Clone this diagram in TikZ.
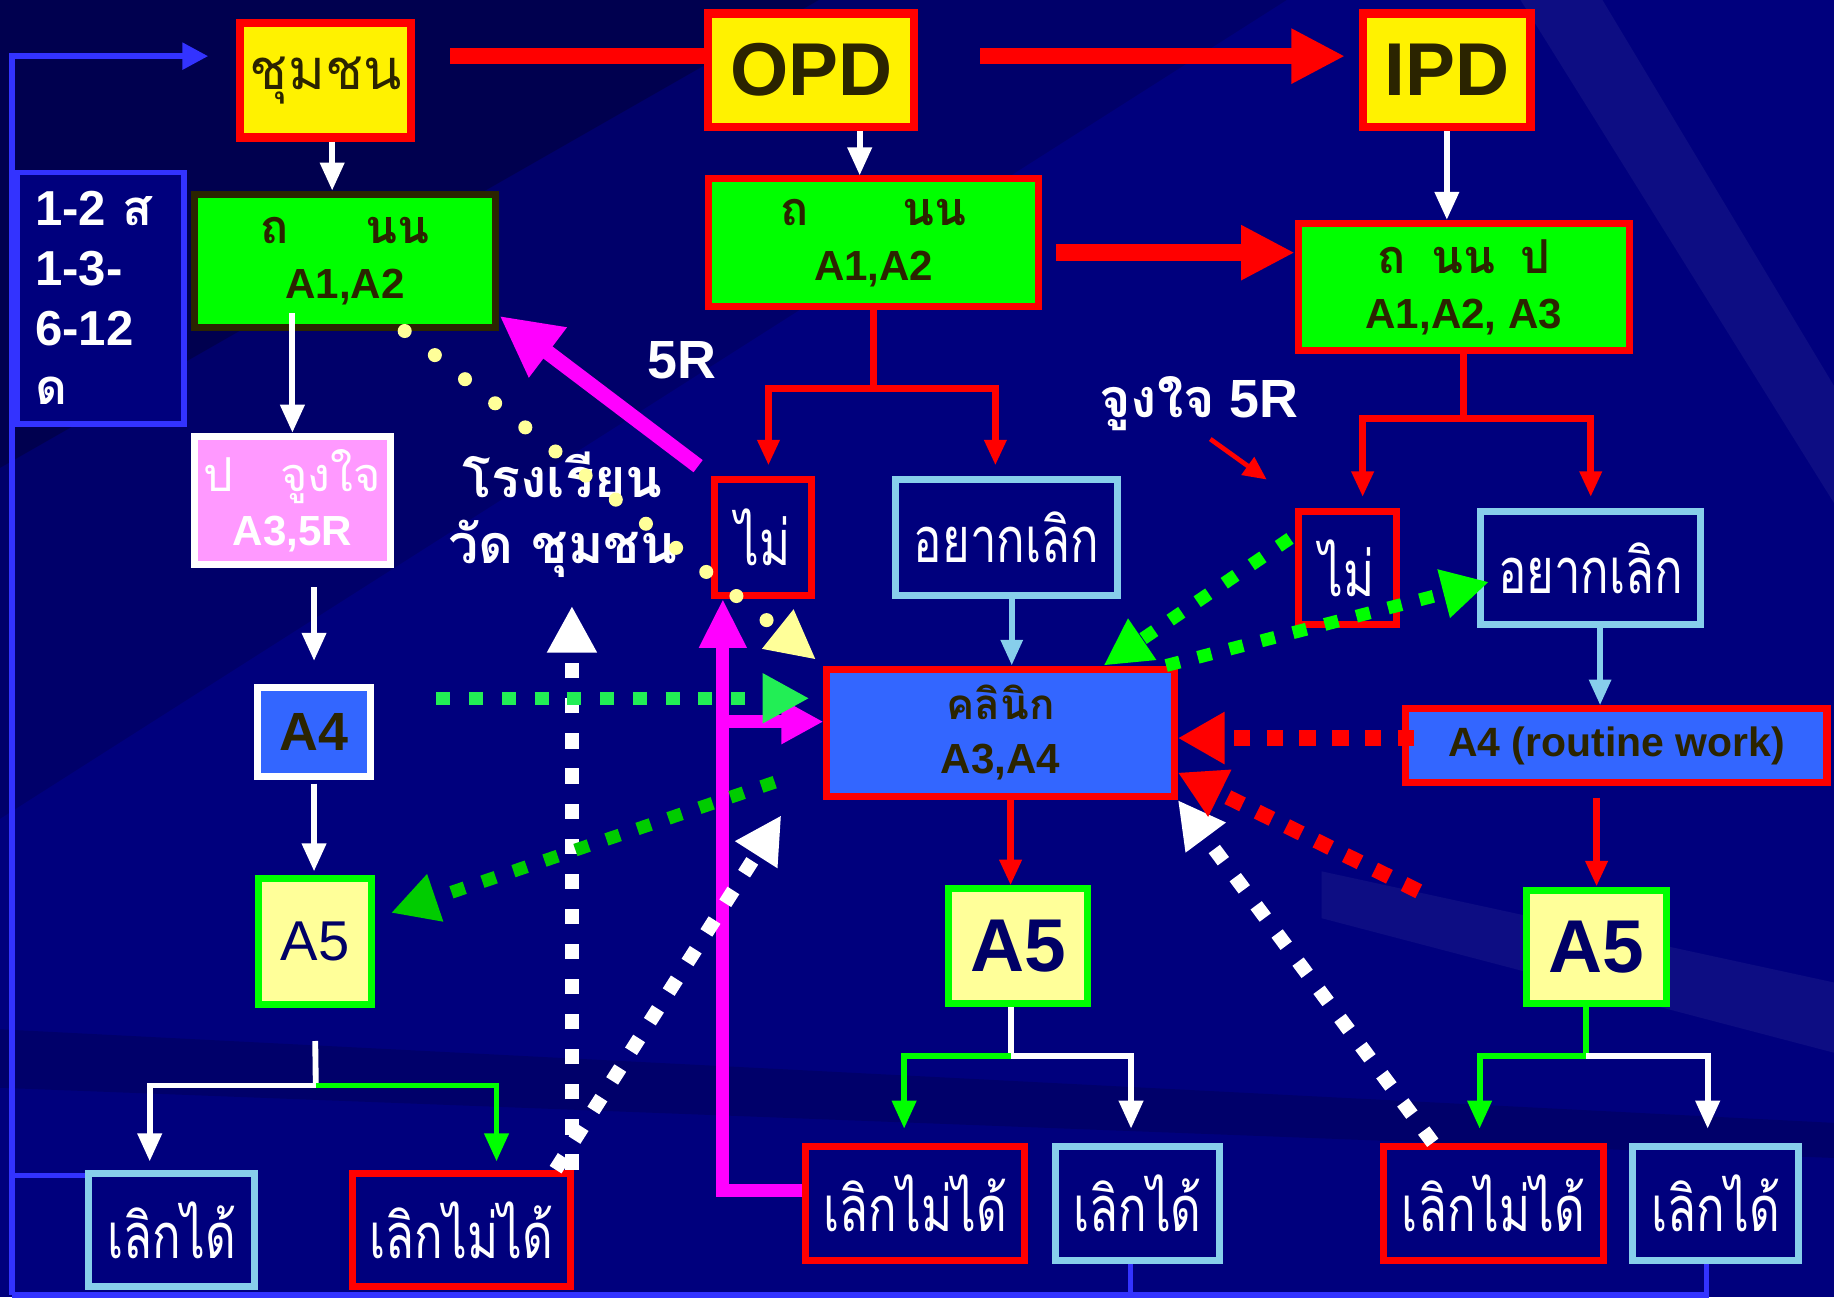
\documentclass[tikz,border=0pt]{standalone}
\usepackage{fontspec}
\setmainfont{Liberation Sans}
\newfontfamily\thai[Script=Thai]{Loma}
\newfontfamily\thaic[Script=Thai,FakeStretch=0.75]{Loma}
\usetikzlibrary{arrows.meta}
\definecolor{bgnavy}{RGB}{0,0,125}
\definecolor{dtext}{RGB}{43,36,0}
\definecolor{boxblue}{RGB}{51,102,255}
\definecolor{skyb}{RGB}{135,206,235}
\definecolor{pinkf}{RGB}{255,153,255}
\definecolor{paley}{RGB}{255,255,153}
\definecolor{navyt}{RGB}{0,0,102}
\definecolor{frameb}{RGB}{51,51,255}
\definecolor{sgreen}{RGB}{34,238,85}
\definecolor{dgreen}{RGB}{0,204,0}
\definecolor{lgreen}{RGB}{0,255,0}
\definecolor{magc}{RGB}{255,0,255}
\definecolor{redc}{RGB}{255,0,0}
\newcommand\myfs[1]{\fontsize{#1}{#1}\selectfont}
\begin{document}
\begin{tikzpicture}[x=1pt,y=-1pt,
 box/.style={draw, rectangle, line width=6pt, inner sep=0pt},
 ybox/.style={box, line width=7pt, draw=redc, fill=yellow, text=dtext},
 gbox/.style={box, fill=lgreen, text=dtext, align=center, font=\bfseries\fontsize{36}{47}\selectfont},
 dbox/.style={box, fill=bgnavy, text=white, font=\thaic\myfs{54}},
 redbig/.style={draw=redc, line width=14pt, -{Triangle[length=46pt,width=44pt]}},
 redln/.style={draw=redc, line width=6pt},
 redarr/.style={redln, -{Triangle[length=22pt,width=18pt]}},
 whiteln/.style={draw=white, line width=5pt},
 whitearr/.style={whiteln, -{Triangle[length=24pt,width=20pt]}},
 greenln/.style={draw=lgreen, line width=5pt},
 greenarr/.style={greenln, -{Triangle[length=24pt,width=20pt]}},
 skyarr/.style={draw=skyb, line width=5pt, -{Triangle[length=22pt,width=18pt]}},
 bluefr/.style={draw=frameb, line width=5pt},
 magbig/.style={draw=magc, line width=13pt, -{Triangle[length=52pt,width=50pt]}},
 magln/.style={draw=magc, line width=11pt},
 magarr/.style={magln, -{Triangle[length=42pt,width=38pt]}},
 gdots/.style={line width=11pt, dash pattern=on 12pt off 16pt, -{Triangle[length=40pt,width=40pt]}},
 ydots/.style={draw=paley, line width=12pt, line cap=round, dash pattern=on 0pt off 33pt, -{Triangle[length=42pt,width=40pt]}},
 wdash/.style={draw=white, line width=12pt, dash pattern=on 13pt off 17pt, -{Triangle[length=40pt,width=40pt]}},
 rdash/.style={draw=redc, line width=13pt, dash pattern=on 14pt off 14pt, -{Triangle[length=40pt,width=42pt]}},
 lbl/.style={text=white, inner sep=0pt}
]
% background
\fill[bgnavy] (0,0) rectangle (1568,1109);
\fill[black, opacity=0.25] (0,0) -- (700,0) -- (0,400) -- cycle;
\fill[black, opacity=0.15] (0,0) -- (1100,0) -- (0,700) -- cycle;
\fill[white, opacity=0.05] (1300,0) -- (1370,0) -- (1568,330) -- (1568,430) -- cycle;
\fill[white, opacity=0.05] (1130,745) -- (1568,840) -- (1568,900) -- (1130,785) -- cycle;
\fill[black, opacity=0.15] (0,880) -- (1568,960) -- (1568,990) -- (0,930) -- cycle;
\useasboundingbox (0,0) rectangle (1568,1109);

% nodes
\node[ybox, minimum width=146pt, minimum height=98pt, font=\thai\myfs{48}] (chum) at (278.5,68.5) {ชุมชน};
\node[ybox, minimum width=176pt, minimum height=97pt, font=\bfseries\myfs{64}] (opd) at (693.5,60) {OPD};
\node[ybox, minimum width=143pt, minimum height=97pt, font=\bfseries\myfs{64}] (ipd) at (1237,60) {IPD};

\node[gbox, draw=dtext, minimum width=258pt, minimum height=114pt] (g1) at (295,223) {{\thai\fontsize{40}{47}\selectfont ถ\hspace{66pt}นน}\\A1,A2};
\node[gbox, draw=redc, minimum width=282pt, minimum height=109pt] (g2) at (747,207.5) {{\thai\fontsize{40}{47}\selectfont ถ\hspace{80pt}นน}\\A1,A2};
\node[gbox, draw=redc, minimum width=283pt, minimum height=109pt] (g3) at (1251.5,245.5) {{\thai\fontsize{40}{47}\selectfont ถ\hspace{22pt}นน\hspace{22pt}ป}\\A1,A2, A3};

\node[box, draw=frameb, line width=5pt, fill=bgnavy, text=white, minimum width=143pt, minimum height=215pt, text width=112pt, align=left, font=\bfseries\fontsize{42}{51}\selectfont] (bx) at (86,255) {1-2 {\thai ส}\\1-3-\\6-12\\{\thai ด}};

\node[box, draw=white, fill=pinkf, text=white, minimum width=168pt, minimum height=110pt, align=center, font=\bfseries\fontsize{36}{46}\selectfont] (pink) at (250,428) {{\thai\mdseries\fontsize{40}{46}\selectfont ป\hspace{40pt}จูงใจ}\\A3,5R};
\node[box, draw=white, fill=boxblue, text=dtext, font=\bfseries\myfs{46}, minimum width=97pt, minimum height=76pt] (a4L) at (268.5,626) {A4};
\node[box, draw=lgreen, fill=paley, text=navyt, font=\myfs{48}, minimum width=97pt, minimum height=108pt] (a5L) at (269.5,805) {A5};
\node[dbox, draw=skyb, minimum width=142pt, minimum height=97pt] (ldL) at (147,1051.5) {เลิกได้};
\node[dbox, draw=redc, minimum width=187pt, minimum height=97pt] (lmL) at (394.5,1051.5) {เลิกไม่ได้};

\node[dbox, draw=redc, minimum width=83pt, minimum height=99pt] (maiC) at (652.5,459.5) {ไม่};
\node[dbox, draw=skyb, minimum width=189pt, minimum height=99pt] (yakC) at (860.5,459.5) {อยากเลิก};
\node[box, draw=redc, fill=boxblue, text=dtext, align=center, font=\bfseries\fontsize{36}{46}\selectfont, minimum width=297pt, minimum height=109pt] (clinic) at (855.5,626.5) {{\thai คลินิก}\\A3,A4};
\node[box, draw=lgreen, fill=paley, text=navyt, font=\bfseries\myfs{64}, minimum width=119pt, minimum height=98pt] (a5C) at (870.5,809) {A5};
\node[dbox, draw=redc, minimum width=187pt, minimum height=98pt] (lmC) at (782.5,1029) {เลิกไม่ได้};
\node[dbox, draw=skyb, minimum width=141pt, minimum height=98pt] (ldC) at (972.5,1029) {เลิกได้};

\node[dbox, draw=redc, minimum width=84pt, minimum height=97pt] (maiR) at (1152,485.5) {ไม่};
\node[dbox, draw=skyb, minimum width=188pt, minimum height=97pt] (yakR) at (1360,485.5) {อยากเลิก};
\node[box, draw=redc, fill=boxblue, text=dtext, font=\bfseries\myfs{35}, minimum width=360pt, minimum height=63pt] (a4R) at (1382,637.5) {A4 (routine work)};
\node[box, draw=lgreen, fill=paley, text=navyt, font=\bfseries\myfs{64}, minimum width=120pt, minimum height=97pt] (a5R) at (1365,809.5) {A5};
\node[dbox, draw=redc, minimum width=188pt, minimum height=98pt] (lmR) at (1277,1029) {เลิกไม่ได้};
\node[dbox, draw=skyb, minimum width=142pt, minimum height=98pt] (ldR) at (1467,1029) {เลิกได้};

% labels
\node[lbl, font=\bfseries\myfs{46}] (l5r) at (583,308) {5R};
\node[lbl, font=\bfseries\myfs{46}] (j5r) at (1025,345) {{\thai จูงใจ} 5R};
\node[lbl, font=\thai\bfseries\fontsize{46}{56}\selectfont, align=center] (school) at (481,440) {โรงเรียน\\วัด ชุมชน};

% coordinates
\coordinate (jL) at (270,928);
\coordinate (jC) at (864,903);
\coordinate (jR) at (1356,903);
\coordinate (jO) at (748,332);
\coordinate (jI) at (1257,358);
\coordinate (fb) at (10,1107);
\coordinate (ft) at (10,48);
\coordinate (rl) at (10,1005);
\coordinate (p5) at (1083,410);
\coordinate (mb) at (618,617);
\coordinate (wt0) at (489,518);
\coordinate (wt1) at (668,697);
\coordinate (rd) at (1213,762);
\coordinate (mg) at (0,216);

% blue frame
\draw[bluefr, -{Triangle[length=22pt,width=22pt]}, shorten >=24pt] (fb) -- (ft) -- ([yshift=20.5]chum.west);
\draw[bluefr] (fb) -- ([xshift=-8]ldR.south |- fb) -- ([xshift=-8]ldR.south);
\draw[bluefr] ([xshift=-6]ldC.south) -- ([xshift=-6]ldC.south |- fb);
\draw[bluefr] (rl) -- (rl -| ldL.west);

% top red
\draw[redln, line width=14pt, shorten <=30pt] ([yshift=20.5]chum.east) -- ([yshift=20.5]chum.east -| opd.west);
\draw[redbig, shorten <=53pt, shorten >=12pt] ([yshift=12]opd.east) -- ([yshift=12]ipd.west);
\draw[redbig, shorten <=12pt] (g2.east |- mg) -- (g3.west |- mg);

% white vertical arrows
\draw[whitearr] ([xshift=5.5]chum.south) -- ([xshift=5.5]chum.south |- g1.north);
\draw[whitearr] ([xshift=-12]g2.north |- opd.south) -- ([xshift=-12]g2.north);
\draw[whitearr] (ipd.south) -- (ipd.south |- g3.north);
\draw[whitearr, shorten <=-15pt] (g1.south -| pink.north) -- (pink.north);
\draw[whitearr, shorten <=16pt, shorten >=20pt] (pink.south -| a4L.north) -- (a4L.north);
\draw[whitearr, shorten <=3pt, shorten >=3pt] (a4L.south) -- (a4L.south |- a5L.north);

% left A5 tree
\draw[whiteln] ([yshift=-28]a5L.south) -- (jL);
\draw[whitearr, shorten >=7pt] (jL) -| ([xshift=-19]ldL.north);
\draw[greenarr, shorten >=7pt] (jL) -| ([xshift=30]lmL.north);

% OPD / IPD trees
\draw[redln] (g2.south) -- (g2.south |- jO);
\draw[redarr, shorten >=9pt] (jO) -| ([xshift=4.5]maiC.north);
\draw[redarr, shorten >=9pt] (jO) -| ([xshift=-9.5]yakC.north);
\draw[redln] (g3.south) -- (g3.south |- jI);
\draw[redarr, shorten >=9pt] (jI) -| ([xshift=13]maiR.north);
\draw[redarr, shorten >=9pt] (jI) -| (yakR.north);

\draw[skyarr] ([xshift=4.5]yakC.south) -- ([xshift=4.5]yakC.south |- clinic.north);
\draw[skyarr] ([xshift=8]yakR.south) -- ([xshift=8]yakR.south |- a4R.north);
\draw[redarr] (clinic.south -| jC) -- (a5C.north -| jC);
\draw[redarr, shorten <=10pt] (a4R.south -| a5R.north) -- (a5R.north);

% centre / right A5 trees
\draw[whiteln] (a5C.south -| jC) -- (jC);
\draw[greenarr, shorten >=12pt] (jC) -| ([xshift=-9.5]lmC.north);
\draw[whitearr, shorten >=12pt] (jC) -| ([xshift=-5.5]ldC.north);
\draw[greenln] (a5R.south -| jR) -- (jR);
\draw[greenarr, shorten >=12pt] (jR) -| ([xshift=-12]lmR.north);
\draw[whitearr, shorten >=12pt] (jR) -| ([xshift=-7]ldR.north);

% thin red arrow
\draw[redln, line width=4pt, -{Triangle[length=20pt,width=18pt]}, shorten <=12pt] (j5r.south) -- (p5);

% magenta
\draw[magbig, shorten <=14pt] (maiC.north west) -- ([yshift=13]g1.south east);
\draw[magarr] ([yshift=11]lmC.west) -| ([xshift=-34.5]maiC.south);
\draw[magln, -{Triangle[length=36pt,width=36pt]}] (mb) -- (mb -| clinic.west);

% dotted / dashed
\draw[ydots, shorten >=8pt] ([xshift=-81]g1.south east) -- (clinic.north west);
\draw[wdash] (lmL.north east -| wt0) -- (wt0);
\draw[wdash] ([xshift=-16]lmL.north east) -- (wt1);
\draw[wdash] ([xshift=45]lmR.north west) -- (clinic.south east);
\draw[rdash, shorten <=-10pt] ([yshift=6.5]a4R.west) -- ([yshift=6.5]a4R.west -| clinic.east);
\draw[rdash] (rd) -- ([yshift=-34]clinic.east);
\draw[gdots, draw=sgreen, shorten <=53pt, shorten >=12pt] ([yshift=29]a4L.east) -- ([yshift=29]a4L.east -| clinic.west);
\draw[gdots, draw=dgreen, shorten <=44pt, shorten >=14pt] ([yshift=-28]clinic.west) -- ([yshift=20]a5L.east);
\draw[gdots, draw=lgreen, shorten <=5pt] ([yshift=28]maiR.west) -- ([xshift=88]clinic.north);
\draw[gdots, draw=lgreen] ([xshift=-10]clinic.north east) -- ([xshift=10,yshift=-12]yakR.west);
\end{tikzpicture}
\end{document}
